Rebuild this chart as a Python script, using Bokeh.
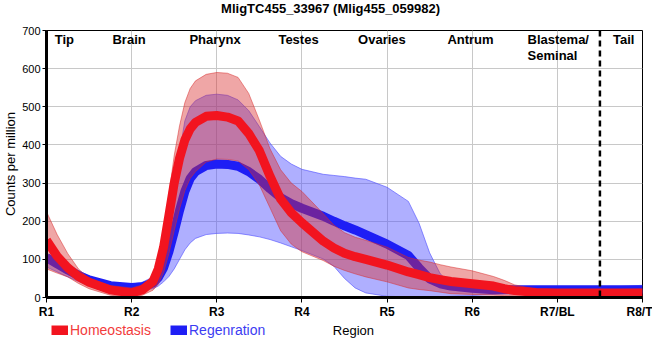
from bokeh.plotting import figure
from bokeh.layouts import column
from bokeh.models import Range1d, Legend, LegendItem, Span, ColumnDataSource
from bokeh.core.properties import value
from bokeh.embed import file_html
from bokeh.resources import INLINE

# ---------------- data ----------------
title_text = "MligTC455_33967 (Mlig455_059982)"
x_axis_title = "Region"
y_axis_title = "Counts per million"
tick_positions = [1, 2, 3, 4, 5, 6, 7, 8]
tick_labels = ["R1", "R2", "R3", "R4", "R5", "R6", "R7/BL", "R8/T"]
y_ticks = [0, 100, 200, 300, 400, 500, 600, 700]

regions = ["Tip", "Brain", "Pharynx", "Testes", "Ovaries", "Antrum", "Tail"]
region_x = [1.21, 1.97, 2.98, 3.96, 4.94, 5.98, 7.78]
region_multi = ["Blastema/\nSeminal"]
region_multi_x = [6.65]
tail_boundary = 7.5

x_pos = [1, 1.125, 1.25, 1.375, 1.5, 1.75, 2, 2.125, 2.25, 2.3125,
         2.375, 2.4375, 2.5, 2.5625, 2.625, 2.6875, 2.75, 2.875, 3, 3.125,
         3.25, 3.375, 3.5, 3.625, 3.75, 3.875, 4, 4.25, 4.375, 4.5,
         4.625, 4.75, 5, 5.25, 5.375, 5.5, 5.625, 5.75, 6, 6.25,
         6.375, 6.5, 6.75, 7, 7.5, 8]

homeo_mean = [150, 108, 78, 55, 40, 20, 12, 20, 42, 75,
              132, 215, 300, 365, 413, 442, 459, 475, 477, 473,
              463, 430, 385, 318, 258, 222, 196, 148, 130, 116,
              107, 100, 85, 67, 60, 52, 47, 42, 36, 30,
              23, 18, 13, 12, 12, 12]
homeo_lo = [75, 64, 54, 37, 23, 6, 1, 6, 19, 35,
            65, 115, 175, 232, 280, 312, 330, 355, 363, 362,
            358, 335, 295, 235, 175, 140, 120, 97, 82, 71,
            62, 54, 41, 25, 21, 18, 14, 10, 8, 6,
            5, 4, 3, 3, 3, 3]
homeo_hi = [225, 165, 115, 75, 50, 31, 25, 33, 56, 100,
            172, 270, 372, 450, 511, 548, 568, 585, 590, 588,
            577, 535, 465, 390, 335, 300, 278, 220, 190, 170,
            158, 150, 132, 105, 98, 93, 86, 80, 70, 55,
            45, 33, 22, 20, 20, 22]

regen_mean = [105, 88, 72, 58, 46, 31, 26, 28, 38, 52,
              78, 120, 172, 228, 278, 312, 330, 346, 350, 349,
              344, 330, 310, 285, 262, 246, 234, 213, 200, 188,
              177, 165, 140, 110, 78, 49, 36, 30, 24, 20,
              20, 20, 20, 20, 20, 20]
regen_lo = [80, 67, 54, 42, 32, 23, 19, 20, 23, 30,
            41, 55, 75, 100, 125, 143, 155, 165, 168, 169,
            168, 164, 159, 152, 143, 133, 123, 101, 82, 50,
            25, 12, 3, 2, 2, 2, 2, 3, 5, 8,
            10, 12, 14, 15, 15, 14]
regen_hi = [115, 101, 88, 71, 56, 38, 35, 40, 54, 75,
            110, 180, 270, 380, 463, 500, 516, 530, 533, 530,
            518, 490, 448, 405, 370, 350, 336, 323, 320, 317,
            313, 310, 289, 252, 195, 117, 62, 36, 28, 25,
            25, 25, 25, 25, 26, 32]

series_names = ["Homeostasis", "Regenration"]

# ---------------- styling ----------------
FONT = "Liberation Sans"
RED_LINE = "#f2141f"
RED_FILL = "#d92b2b"
RED_TEXT = "#f23c3c"
BLUE_LINE = "#1e1ef5"
BLUE_FILL = "#4d4dff"
BLUE_TEXT = "#3c3cf2"


def strip(height):
    f = figure(width=652, height=height, output_backend="svg", toolbar_location=None,
               x_range=Range1d(0, 600), y_range=Range1d(0, height),
               x_axis_location=None, y_axis_location=None,
               min_border_left=42, min_border_right=10, min_border_top=0,
               min_border_bottom=0)
    f.grid.visible = False
    f.outline_line_color = None
    f.background_fill_color = "white"
    f.border_fill_color = "white"
    return f


# ---------------- top strip: title ----------------
p0 = strip(22)
p0.text(x=[286], y=[14], text=[title_text], text_font=value(FONT),
        text_font_size="13px", text_font_style="bold", text_align="center",
        text_baseline="middle", text_color="black")

# ---------------- main chart ----------------
src = ColumnDataSource(dict(x=x_pos, hm=homeo_mean, hl=homeo_lo, hh=homeo_hi,
                            rm=regen_mean, rl=regen_lo, rh=regen_hi))

p = figure(width=652, height=299, output_backend="svg", toolbar_location=None,
           x_range=Range1d(1, 8), y_range=Range1d(0, 700),
           min_border_left=42, min_border_right=10, min_border_top=8,
           min_border_bottom=22)

p.outline_line_color = "black"
p.outline_line_width = 1
p.background_fill_color = "white"
p.border_fill_color = "white"

# bands + lines (regeneration below, homeostasis on top)
p.varea(x="x", y1="rl", y2="rh", source=src, fill_color=BLUE_FILL, fill_alpha=0.45)
p.line(x="x", y="rl", source=src, line_color=BLUE_FILL, line_width=1, line_alpha=0.6)
p.line(x="x", y="rh", source=src, line_color=BLUE_FILL, line_width=1, line_alpha=0.6)
p.line(x="x", y="rm", source=src, line_color=BLUE_LINE, line_width=9,
       line_join="round")

p.varea(x="x", y1="hl", y2="hh", source=src, fill_color=RED_FILL, fill_alpha=0.42)
p.line(x="x", y="hl", source=src, line_color=RED_FILL, line_width=1, line_alpha=0.5)
p.line(x="x", y="hh", source=src, line_color=RED_FILL, line_width=1, line_alpha=0.5)
p.line(x="x", y="hm", source=src, line_color=RED_LINE, line_width=9,
       line_join="round")

# tail boundary
p.add_layout(Span(location=tail_boundary, dimension="height", line_color="black",
                  line_width=2.5, line_dash="6 4"))

# region labels
top_val = 696
p.text(x=region_x, y=[top_val] * len(region_x), text=regions,
       text_font=value(FONT), text_font_size="13px", text_font_style="bold",
       text_align="center", text_baseline="top", text_color="black")
p.text(x=region_multi_x, y=[top_val] * len(region_multi_x), text=region_multi,
       text_font=value(FONT), text_font_size="13px", text_font_style="bold",
       text_align="left", text_baseline="top", text_color="black",
       text_line_height=1.05)

# axes
p.xaxis.ticker = tick_positions
p.xaxis.major_label_overrides = {t: l for t, l in zip(tick_positions, tick_labels)}
p.yaxis.ticker = y_ticks
for ax in (p.xaxis, p.yaxis):
    ax.axis_line_color = "black"
    ax.axis_line_width = 3
    ax.major_tick_line_color = "black"
    ax.major_tick_line_width = 1
    ax.major_tick_in = 0
    ax.minor_tick_line_color = None
    ax.axis_label_text_font = FONT
    ax.axis_label_text_font_style = "normal"
    ax.axis_label_text_font_size = "13px"
    ax.axis_label_text_color = "black"
    ax.major_label_text_font = FONT
    ax.major_label_text_color = "black"

p.xaxis.major_tick_out = 5
p.xaxis.major_label_standoff = 2
p.xaxis.major_label_text_font_size = "12px"
p.xaxis.major_label_text_font_style = "bold"

p.yaxis.major_tick_out = 4
p.yaxis.major_label_standoff = 2
p.yaxis.major_label_text_font_size = "11px"
p.yaxis.axis_label = y_axis_title
p.yaxis.axis_label_standoff = 1

p.xgrid.grid_line_color = "#c8c8c8"
p.ygrid.grid_line_color = "#c8c8c8"

# ---------------- bottom strip: legend + x-axis title ----------------
p2 = strip(30)

nan = float("nan")
key_red = p2.line(x=[nan], y=[nan], line_color=RED_LINE, line_width=10)
key_blue = p2.line(x=[nan], y=[nan], line_color=BLUE_LINE, line_width=10)

for rend, name, col, loc in ((key_red, series_names[0], RED_TEXT, (5, 13)),
                             (key_blue, series_names[1], BLUE_TEXT, (124, 13))):
    leg = Legend(items=[LegendItem(label=name, renderers=[rend])], location=loc,
                 orientation="horizontal")
    leg.label_text_color = col
    leg.label_text_font = FONT
    leg.label_text_font_size = "14px"
    leg.glyph_width = 17
    leg.glyph_height = 10
    leg.label_standoff = 2
    leg.padding = 0
    leg.margin = 0
    leg.spacing = 0
    leg.border_line_alpha = 0
    leg.background_fill_alpha = 0
    p2.add_layout(leg)

p2.text(x=[309], y=[21], text=[x_axis_title], text_font=value(FONT),
        text_font_size="13px", text_align="center", text_baseline="middle",
        text_color="black")

layout = column(p0, p, p2, spacing=0)
open("out.html", "w").write(file_html(layout, INLINE))
